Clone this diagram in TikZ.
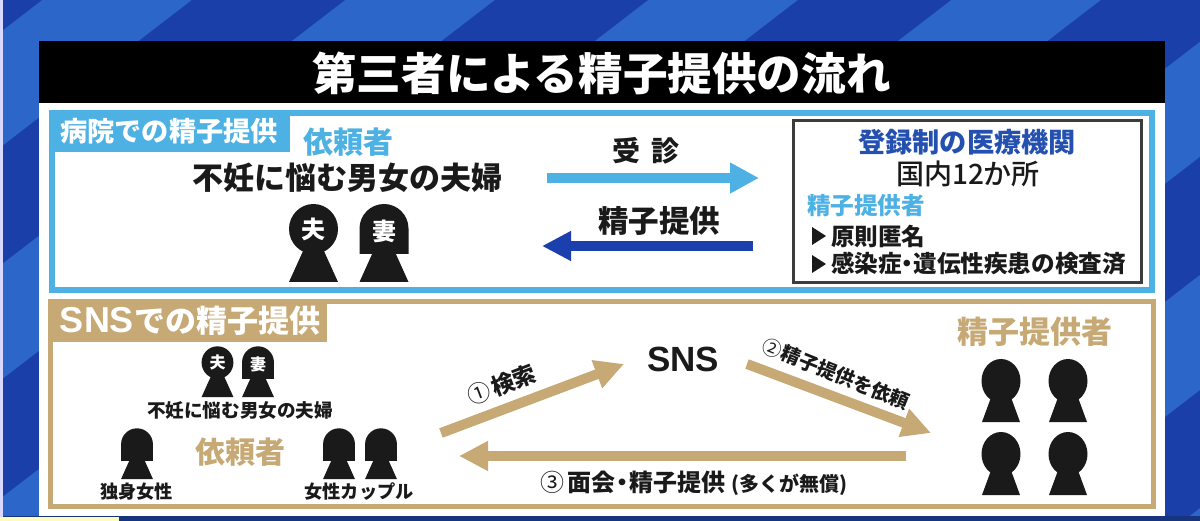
\documentclass[tikz,border=0pt]{standalone}
\usepackage{fontspec}
\setmainfont{Noto Sans CJK JP}
\newfontfamily\mdfont{Noto Sans CJK JP Medium}
\newfontfamily\lat[BoldFont=Liberation Sans Bold]{Liberation Sans}
\usetikzlibrary{arrows.meta}
\newcommand{\fs}[1]{\fontsize{#1}{#1}\selectfont}
\definecolor{bglight}{HTML}{2B66C8}
\definecolor{bgdark}{HTML}{1B3FA8}
\definecolor{barblue}{HTML}{17357F}
\definecolor{skyc}{HTML}{4DB1E3}
\definecolor{navyc}{HTML}{1C3FAE}
\definecolor{headblue}{HTML}{2450B0}
\definecolor{tanc}{HTML}{C6A974}
\definecolor{inkc}{HTML}{1A1A1A}
\tikzset{
  txt/.style={inner sep=0pt,outer sep=0pt,text=inkc,font=\bfseries},
  btxt/.style={inner sep=0pt,outer sep=0pt,text=inkc,font=\bfseries},
  facetxt/.style={inner sep=0pt,outer sep=0pt,text=white,font=\bfseries},
  husband/.pic={
    \fill[inkc] (0,-53) ellipse (24.5 and 25);
    \fill[inkc] (-10,-32) -- (10,-32) -- (24.5,0) -- (-24.5,0) -- cycle;
  },
  wife/.pic={
    \fill[inkc] (-24.5,-28) -- (-24.5,-53.5) arc[start angle=180,end angle=360,radius=24.5] -- (24.5,-28) -- cycle;
    \fill[inkc] (-11,-30) -- (11,-30) -- (24.5,0) -- (-24.5,0) -- cycle;
  },
  donor/.pic={
    \fill[inkc] (0,-41) ellipse (19.5 and 22);
    \fill[inkc] (-8,-30) -- (8,-30) -- (19,0) -- (-19,0) -- cycle;
  },
  bullet/.pic={\fill[inkc] (-7,-9) -- (7,0) -- (-7,9) -- cycle;},
  skyarrow/.style={line width=10pt,draw=skyc,-{Triangle[length=29pt,width=29pt]}},
  navyarrow/.style={line width=9.5pt,draw=navyc,-{Triangle[length=29pt,width=28pt]}},
  tanarrow/.style={line width=10pt,draw=tanc,-{Triangle[length=29pt,width=28pt]}},
}
\begin{document}
\begin{tikzpicture}[x=1pt,y=-1pt]
\useasboundingbox (0,0) rectangle (1200,521);
% background
\fill[bglight] (0,0) rectangle (1200,521);
\begin{scope}
\clip (0,0) rectangle (1200,521);
\foreach \k in {-1,...,5}{
  \fill[bgdark] ({192+303*\k},0) -- ({345+303*\k},0) -- ({345+303*\k-677},521) -- ({192+303*\k-677},521) -- cycle;
}
\end{scope}
\fill[barblue] (0,516) rectangle (1200,521);
\fill[yellow!25!white] (0,517) rectangle (119,521);
\fill[blue!15!white] (0,0) rectangle (2.5,517);
% panel and title
\fill[white] (39,100) rectangle (1165,516);
\fill[black] (39,41) rectangle (1165,103);
\node[btxt,text=white] (title) at (601.5,73) {\fs{44.6}第三者による精子提供の流れ};
% hospital section
\draw[skyc,line width=6pt] (52,113) rectangle (1152,290);
\fill[skyc] (49,110) rectangle (290,152);
\node[btxt,text=white] (hosplabel) at (169,131) {\fs{27.2}病院での精子提供};
\node[btxt,text=skyc] (reqa) at (348,142) {\fs{30}依頼者};
\node[txt] (couplea) at (347.5,178) {\fs{31}不妊に悩む男女の夫婦};
\pic at (313.5,282) {husband};
\pic at (384,282) {wife};
\node[facetxt] (ha) at (313.5,229) {\fs{24}夫};
\node[facetxt] (wa) at (384,231) {\fs{24}妻};
\coordinate (a1s) at (547,178);
\coordinate (a1e) at (759,178);
\coordinate (a2s) at (753,246);
\coordinate (a2e) at (542,246);
\draw[skyarrow] (a1s) -- (a1e);
\draw[navyarrow] (a2s) -- (a2e);
\node[txt] (visit) at (646,151) {\fs{28}受\hspace{12pt}診};
\node[txt] (give) at (659,221) {\fs{30.5}精子提供};
\node[draw=inkc!85,line width=2.2pt,minimum width=348pt,minimum height=162pt,inner sep=0pt] (clinic) at (967.5,201.5) {};
\node[btxt,text=headblue] (clinict) at (967,142) {\fs{27.2}登録制の医療機関};
\node[txt,font=\mdfont] (clinicn) at (968,174) {\fs{28}国内12か所};
\node[btxt,text=skyc,anchor=west] (dona) at (807,206) {\fs{23.6}精子提供者};
\pic at (819,236) {bullet};
\pic at (819,264) {bullet};
\node[txt,anchor=west] (cond1) at (831,236) {\fs{23.6}原則匿名};
\node[txt,anchor=west] (cond2) at (831,264) {\fs{23.6}感染症\hspace{-6pt}・\hspace{-6pt}遺伝性疾患の検査済};
% SNS section
\draw[tanc,line width=5pt] (50.5,301.5) rectangle (1153.5,506.5);
\fill[tanc] (48,299) rectangle (327,342);
\node[btxt,text=white] (snslabel) at (190,321) {\fs{31}{\lat\bfseries\fs{36}SNS}での精子提供};
\pic[scale=.65] at (217.5,397) {husband};
\pic[scale=.65] at (258,397) {wife};
\node[facetxt] (hb) at (217.5,362) {\fs{16}夫};
\node[facetxt] (wb) at (258,364) {\fs{16}妻};
\node[txt] (coupleb) at (240,410) {\fs{18.6}不妊に悩む男女の夫婦};
\pic[scale=.65] at (137,479) {wife};
\node[txt] (single) at (136.5,492) {\fs{18.2}独身女性};
\node[btxt,text=tanc] (reqb) at (240,452) {\fs{30}依頼者};
\pic[scale=.65] at (339,479) {wife};
\pic[scale=.65] at (381,479) {wife};
\node[txt] (fcouple) at (359,492) {\fs{18.2}女性カップル};
\node[txt,font=\lat\bfseries\fs{35}] (sns) at (683,359) {SNS};
\coordinate (b1s) at (441,433);
\coordinate (b1e) at (624,364);
\coordinate (b2s) at (747,364);
\coordinate (b2e) at (931,433);
\coordinate (b3s) at (906,456);
\coordinate (b3e) at (459,456);
\draw[tanarrow] (b1s) -- (b1e);
\draw[tanarrow] (b2s) -- (b2e);
\draw[tanarrow] (b3s) -- (b3e);
\node[txt,rotate=21] (l1) at (502,385) {\fs{23}{\mdseries ①}\hspace{2pt}検索};
\node[txt,rotate=-22] (l2) at (836,374) {\fs{19.5}{\mdseries ②}精子提供を依頼};
\node[txt] (l3) at (694,483) {\fs{24}{\mdseries ③}\hspace{3pt}面会\hspace{-5pt}・\hspace{-5pt}精子提供\hspace{6pt}\fs{20}(多くが無償)};
\node[btxt,text=tanc] (donb) at (1035,332) {\fs{31}精子提供者};
\pic at (1001,422) {donor};
\pic at (1068,422) {donor};
\pic at (1001,495) {donor};
\pic at (1068,495) {donor};
\end{tikzpicture}
\end{document}
